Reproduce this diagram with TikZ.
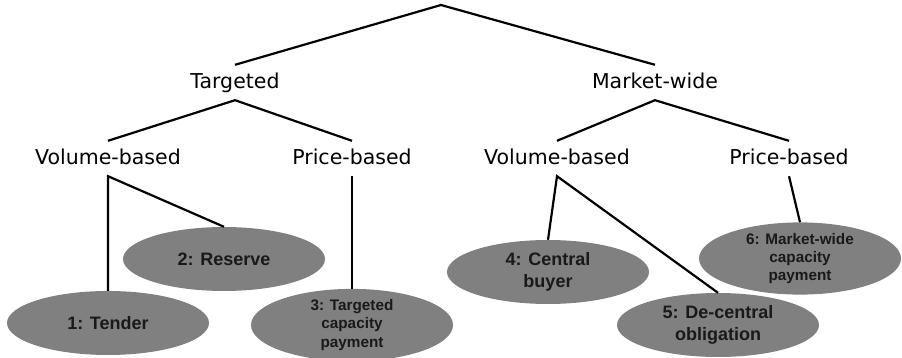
\documentclass[tikz,border=0pt]{standalone}
\usepackage{fontspec}
\setmainfont{DejaVu Sans}
\newfontfamily\optfont{Liberation Sans}
\usetikzlibrary{shapes.geometric}
\definecolor{optgray}{gray}{0.5}
\tikzset{
  tier/.style={font=\fontsize{20.5}{24}\selectfont, inner xsep=0pt, inner ysep=7pt, text height=17pt, text depth=4pt},
  option/.style={ellipse, fill=optgray, text=black!90, minimum width=202pt, minimum height=64pt, inner sep=0pt, align=center, font=\optfont\bfseries\fontsize{18}{22}\selectfont},
  smalltext/.style={font=\optfont\bfseries\fontsize{15.3}{18.4}\selectfont},
  branch/.style={line width=2.2pt},
}
\begin{document}
\begin{tikzpicture}[x=1pt,y=-1pt]
    \useasboundingbox (0,0) rectangle (902,358);

    %% the two families and their sub-types
    \coordinate (root) at (441,5);
    \node[tier] (targ) at (235,82.5) {Targeted};
    \node[tier] (mkt) at (655,82.5) {Market-wide};
    \node[tier] (tvol) at (108,158.5) {Volume-based};
    \node[tier] (tpri) at (352,158.5) {Price-based};
    \node[tier] (mvol) at (557,158.5) {Volume-based};
    \node[tier] (mpri) at (789,158.5) {Price-based};

    %% the six mechanisms
    \node[option] (tender) at (108,323) {1: Tender};
    \node[option] (reserve) at (224,259) {2: Reserve};
    \node[option, smalltext] (tcap) at (352,325) {3: Targeted\\capacity\\payment};
    \node[option] (buyer) at (548,272) {4: Central\\buyer};
    \node[option] (oblig) at (718,325) {5: De-central\\obligation};
    \node[option, smalltext] (mcap) at (800,258.5) {6: Market-wide\\capacity\\payment};

    \draw[branch] (targ.north) -- (root) -- (mkt.north);
    \draw[branch] (tvol.north) -- (targ.south) -- (tpri.north);
    \draw[branch] (mvol.north) -- (mkt.south) -- (mpri.north);
    \draw[branch] (tender.north) -- (tvol.south) -- (reserve.north);
    \draw[branch] (tpri.south) -- (tcap.north);
    \draw[branch] (buyer.north) -- (mvol.south) -- (oblig.north);
    \draw[branch] (mpri.south) -- (mcap.north);
\end{tikzpicture}
\end{document}
